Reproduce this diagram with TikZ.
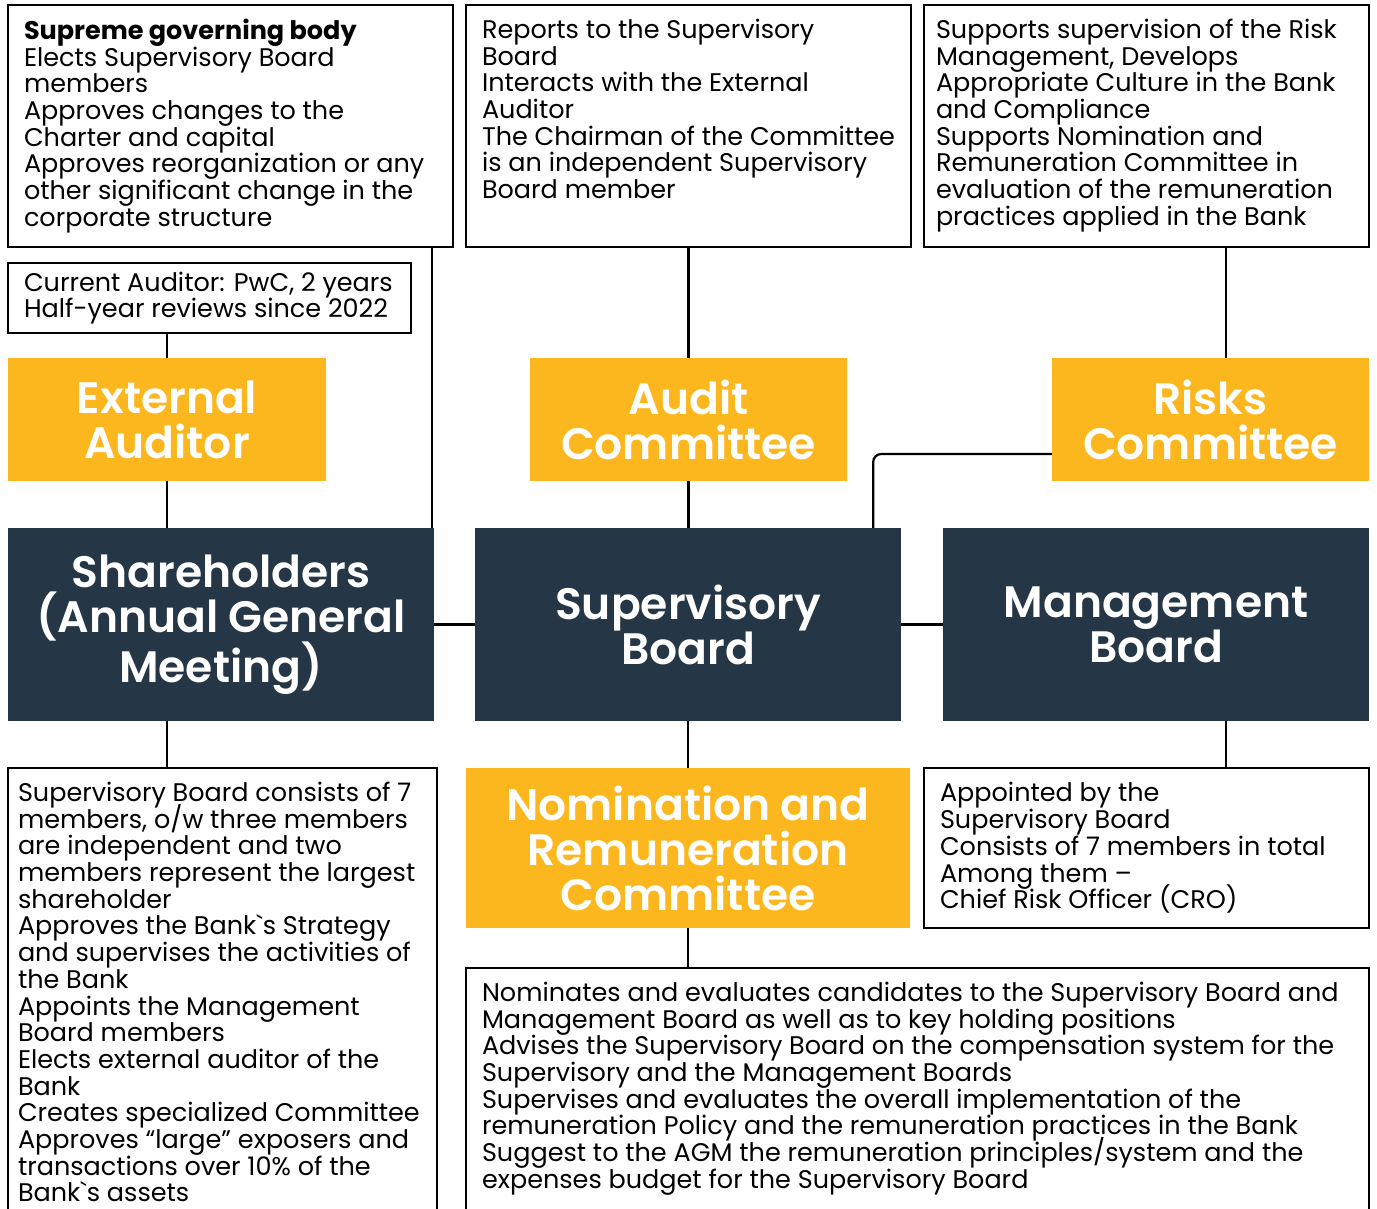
\documentclass[tikz,border=0pt]{standalone}
\usepackage{fontspec}
\setmainfont{Poppins}
\newfontfamily\headfont{Poppins SemiBold}
\usetikzlibrary{calc}
\definecolor{orgyellow}{HTML}{FDB71E}
\definecolor{orgnavy}{HTML}{253746}
\newcommand{\boxlines}[4]{\parbox[c][#3][#1]{#2}{\lineskiplimit=-\maxdimen\raggedright #4}}

\begin{document}
\begin{tikzpicture}[
  x=1pt, y=-1pt,
  bodytext/.style={font=\fontsize{25.5}{26.7}\selectfont},
  notebox/.style={draw=black, line width=1.4pt, fill=white, inner xsep=16pt,
    inner ysep=14pt, bodytext},
  headbox/.style={text=white, align=center, inner sep=0pt,
    font=\headfont\fontsize{44}{45}\selectfont},
  yellowbox/.style={headbox, fill=orgyellow},
  navybox/.style={headbox, fill=orgnavy, minimum width=426pt, minimum height=193pt},
  link/.style={draw=black, line width=2.2pt},
]
\useasboundingbox (0,0) rectangle (1377,1209);

% ===== top notes =====
\node[notebox] (shnote) at (230.5,126) {\boxlines{t}{413pt}{214pt}{%
  \textbf{Supreme governing body}\\
  Elects Supervisory Board\\ members\\
  Approves changes to the\\ Charter and capital\\
  Approves reorganization or any\\ other significant change in the\\ corporate structure}};
\node[notebox] (acnote) at (688.5,126) {\boxlines{t}{413pt}{214pt}{%
  Reports to the Supervisory\\ Board\\
  Interacts with the External\\ Auditor\\
  The Chairman of the Committee\\ is an independent Supervisory\\ Board member}};
\node[notebox, inner xsep=12pt] (rcnote) at (1146.5,126) {\boxlines{t}{421pt}{214pt}{%
  Supports supervision of the Risk\\ Management, Develops\\
  Appropriate Culture in the Bank\\ and Compliance\\
  Supports Nomination and\\ Remuneration Committee in\\
  evaluation of the remuneration\\ practices applied in the Bank}};
\node[notebox] (audnote) at (209.5,298) {\boxlines{c}{371pt}{42pt}{%
  Current Auditor: PwC, 2 years\\ Half-year reviews since 2022}};

% ===== committees =====
\node[yellowbox, minimum width=318pt, minimum height=123pt] (extaud) at (167,419.5) {External\\Auditor};
\node[yellowbox, minimum width=317pt, minimum height=123pt] (audcom) at (688.5,419.5) {Audit\\Committee};
\node[yellowbox, minimum width=317pt, minimum height=123pt] (riskcom) at (1210.5,419.5) {Risks\\Committee};

% ===== governing bodies =====
\node[navybox] (share) at (221,624.5) {Shareholders\\(Annual General\\Meeting)};
\node[navybox] (supboard) at (688,624.5) {Supervisory\\Board};
\node[navybox] (mgmt) at (1156,624.5) {Management\\Board};

\node[yellowbox, minimum width=444pt, minimum height=160pt] (nomcom) at (688,848) {Nomination and\\Remuneration\\Committee};

% ===== bottom notes =====
\node[notebox, inner xsep=10pt] (sbnote) at (222.5,996.5) {\boxlines{t}{409pt}{429pt}{%
  Supervisory Board consists of 7\\ members, o/w three members\\
  are independent and two\\ members represent the largest\\ shareholder\\
  Approves the Bank\textasciigrave s Strategy\\ and supervises the activities of\\ the Bank\\
  Appoints the Management\\ Board members\\
  Elects external auditor of the\\ Bank\\
  Creates specialized Committee\\
  Approves “large” exposers and\\ transactions over 10\% of the\\ Bank\textasciigrave s assets}};
\node[notebox] (nomnote) at (917.5,1096.5) {\boxlines{t}{871pt}{229pt}{%
  Nominates and evaluates candidates to the Supervisory Board and\\
  Management Board as well as to key holding positions\\
  Advises the Supervisory Board on the compensation system for the\\
  Supervisory and the Management Boards\\
  Supervises and evaluates the overall implementation of the\\
  remuneration Policy and the remuneration practices in the Bank\\
  Suggest to the AGM the remuneration principles/system and the\\
  expenses budget for the Supervisory Board}};
\node[notebox] (mbnote) at (1146.5,848) {\boxlines{c}{413pt}{132pt}{%
  Appointed by the\\ Supervisory Board\\
  Consists of 7 members in total\\
  Among them –\\ Chief Risk Officer (CRO)}};

% ===== connectors =====
\coordinate (shline) at ([xshift=-2pt]share.north east);
\coordinate (riskline) at (1226,0);
\coordinate (riskjoin) at ([yshift=-34.5pt]riskcom.west);
\draw[link] (shline) -- (shline |- shnote.south);
\draw[link] (audnote.south -| extaud.north) -- (extaud.north);
\draw[link] (extaud.south) -- (extaud.south |- share.north);
\draw[link] (share.south -| extaud.south) -- (sbnote.north -| extaud.south);
\draw[link] (acnote.south -| audcom.north) -- (audcom.north);
\draw[link] (audcom.south) -- (audcom.south |- supboard.north);
\draw[link] (rcnote.south -| riskline) -- (riskcom.north -| riskline);
\draw[link, rounded corners=8pt] (riskjoin) -| ([xshift=-28pt]supboard.north east);
\draw[link] (share.east) -- (supboard.west);
\draw[link] (supboard.east) -- (mgmt.west);
\draw[link] (supboard.south) -- (nomcom.north);
\draw[link] (mgmt.south -| riskline) -- (mbnote.north -| riskline);
\draw[link] (nomcom.south) -- (nomnote.north -| nomcom.south);

\end{tikzpicture}
\end{document}
